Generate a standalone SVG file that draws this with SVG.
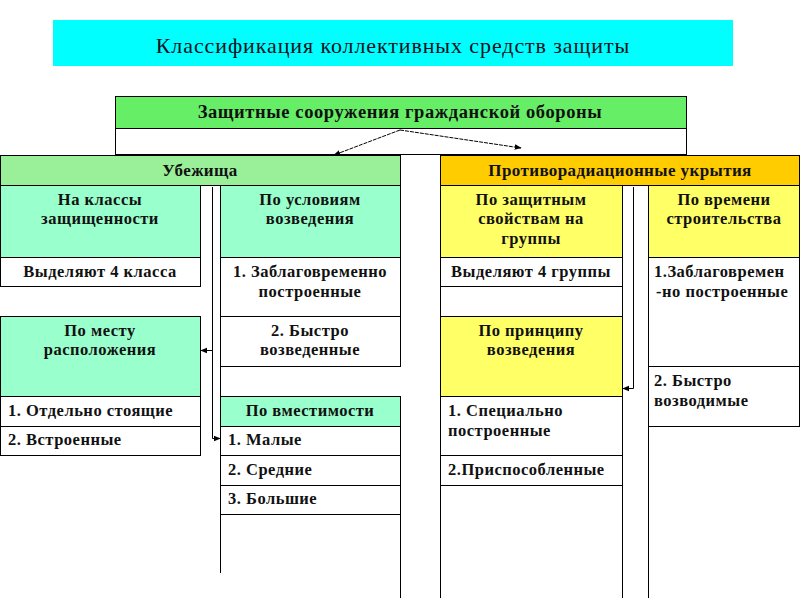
<svg xmlns="http://www.w3.org/2000/svg" width="800" height="600" viewBox="0 0 800 600">
<defs>
<style>
.b{stroke:#000;stroke-width:1}
.w{fill:#fff}
.g1{fill:#66EE66}
.g2{fill:#99F099}
.aq{fill:#99FFCC}
.au{fill:#FFCC00}
.ye{fill:#FFFF66}
.cy{fill:#00FFFF}
text{font-family:"Liberation Serif","Times New Roman",serif;font-weight:bold;font-size:16.5px;letter-spacing:0.5px;fill:#111}
.c{text-anchor:middle}
.h{font-size:17px;letter-spacing:0.4px}
.r{font-size:18.5px;letter-spacing:0.6px}
.t{font-weight:normal;font-size:22px;letter-spacing:0.9px;fill:#112}
.ln{stroke:#000;stroke-width:1;fill:none}
.ds{stroke:#000;stroke-width:1;fill:none;stroke-dasharray:4 1}
</style>
<marker id="ah" viewBox="0 0 10 10" refX="9" refY="5" markerWidth="7" markerHeight="7" orient="auto-start-reverse" markerUnits="userSpaceOnUse">
<path d="M0,1 L10,5 L0,9 Z" fill="#000"/>
</marker>
</defs>
<rect width="800" height="600" fill="#fff"/>

<g id="title">
<rect class="cy" x="53" y="20" width="680" height="46"/>
<text class="c t" x="393" y="53">Классификация коллективных средств защиты</text>
</g>

<g id="root">
<rect class="w b" x="115.5" y="96.5" width="571" height="58"/>
<rect class="g1 b" x="115.5" y="96.5" width="571" height="32"/>
<text class="c r" x="400" y="118">Защитные сооружения гражданской обороны</text>
</g>

<g id="ubezhishcha">
<rect class="g2 b" x="0.5" y="155.5" width="400" height="30"/>
<text class="c h" x="200" y="176">Убежища</text>
</g>

<g id="pru">
<rect class="au b" x="440.5" y="155.5" width="359" height="30"/>
<text class="c h" x="620" y="176">Противорадиационные укрытия</text>
</g>

<g id="classes">
<rect class="aq b" x="0.5" y="185.5" width="200" height="72"/>
<text class="c" x="100" y="205">На классы</text>
<text class="c" x="100" y="224">защищенности</text>
<rect class="w b" x="0.5" y="257.5" width="200" height="29"/>
<text class="c" x="100" y="277">Выделяют 4 класса</text>
</g>

<g id="conditions">
<rect class="aq b" x="220.5" y="185.5" width="180" height="72"/>
<text class="c" x="310" y="205">По условиям</text>
<text class="c" x="310" y="224">возведения</text>
<rect class="w b" x="220.5" y="257.5" width="180" height="59"/>
<text class="c" x="310" y="277">1. Заблаговременно</text>
<text class="c" x="310" y="297">построенные</text>
<rect class="w b" x="220.5" y="316.5" width="180" height="50"/>
<text class="c" x="310" y="336">2. Быстро</text>
<text class="c" x="310" y="355">возведенные</text>
</g>

<g id="location">
<rect class="aq b" x="0.5" y="316.5" width="200" height="80"/>
<text class="c" x="100" y="336">По месту</text>
<text class="c" x="100" y="355">расположения</text>
<rect class="w b" x="0.5" y="396.5" width="200" height="30"/>
<text x="8" y="416">1. Отдельно стоящие</text>
<rect class="w b" x="0.5" y="426.5" width="200" height="29"/>
<text x="8" y="445">2. Встроенные</text>
</g>

<g id="capacity">
<rect class="aq b" x="220.5" y="396.5" width="180" height="30"/>
<text class="c" x="310" y="416">По вместимости</text>
<rect class="w b" x="220.5" y="426.5" width="180" height="29"/>
<text x="228" y="445">1. Малые</text>
<rect class="w b" x="220.5" y="455.5" width="180" height="30"/>
<text x="228" y="475">2. Средние</text>
<rect class="w b" x="220.5" y="485.5" width="180" height="29"/>
<text x="228" y="504">3. Большие</text>
<line class="ln" x1="220.5" y1="514" x2="220.5" y2="573"/>
<line class="ln" x1="400.5" y1="514" x2="400.5" y2="598"/>
</g>

<g id="groups">
<rect class="ye b" x="440.5" y="185.5" width="182" height="72"/>
<text class="c" x="531" y="205">По защитным</text>
<text class="c" x="531" y="224">свойствам на</text>
<text class="c" x="531" y="244">группы</text>
<rect class="w b" x="440.5" y="257.5" width="182" height="29"/>
<text class="c" x="531" y="277">Выделяют 4 группы</text>
<rect class="w b" x="440.5" y="286.5" width="182" height="30"/>
</g>

<g id="principle">
<rect class="ye b" x="440.5" y="316.5" width="182" height="80"/>
<text class="c" x="531" y="336">По принципу</text>
<text class="c" x="531" y="355">возведения</text>
<rect class="w b" x="440.5" y="396.5" width="182" height="59"/>
<text x="448" y="416">1. Специально</text>
<text x="448" y="436">построенные</text>
<rect class="w b" x="440.5" y="455.5" width="182" height="30"/>
<text x="448" y="475">2.Приспособленные</text>
<line class="ln" x1="440.5" y1="485" x2="440.5" y2="598"/>
<line class="ln" x1="622.5" y1="485" x2="622.5" y2="598"/>
</g>

<g id="time">
<rect class="ye b" x="648.5" y="185.5" width="151" height="72"/>
<text class="c" x="724" y="205">По времени</text>
<text class="c" x="724" y="224">строительства</text>
<rect class="w b" x="648.5" y="257.5" width="151" height="109"/>
<text x="654" y="277">1.Заблаговремен</text>
<text x="656" y="297">-но построенные</text>
<rect class="w b" x="648.5" y="366.5" width="151" height="60"/>
<text x="654" y="386">2. Быстро</text>
<text x="654" y="406">возводимые</text>
<line class="ln" x1="648.5" y1="426" x2="648.5" y2="598"/>
</g>

<g id="connectors">
<path class="ds" d="M400,130 L334,155" marker-end="url(#ah)"/>
<path class="ds" d="M400,130 L521,148" marker-end="url(#ah)"/>
<line class="ln" x1="220.5" y1="366" x2="220.5" y2="397"/>
<path class="ln" d="M212.5,187 L212.5,438.5 L220,438.5" marker-end="url(#ah)"/>
<path class="ln" d="M212.5,350.5 L201,350.5" marker-end="url(#ah)"/>
<path class="ln" d="M633.5,187 L633.5,388.5 L623,388.5" marker-end="url(#ah)"/>
</g>
</svg>
